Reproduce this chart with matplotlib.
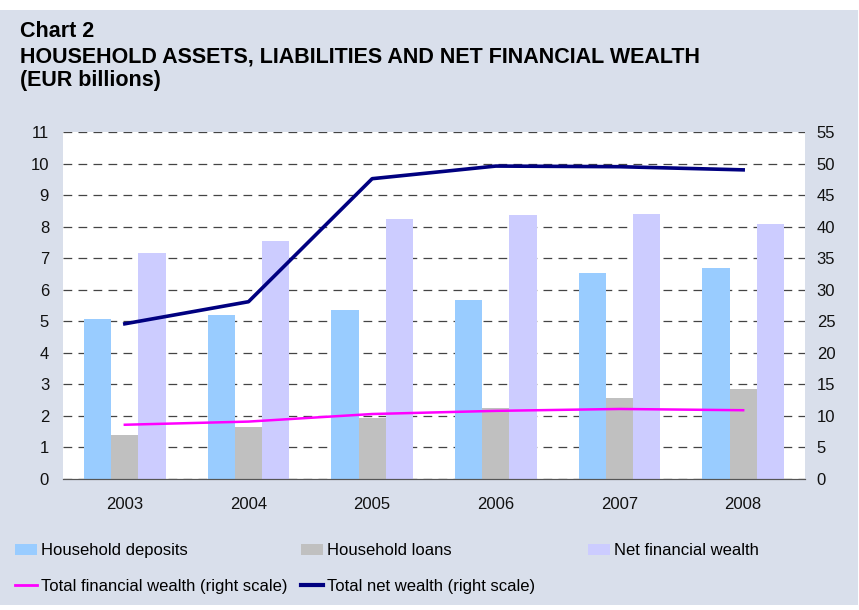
import matplotlib.pyplot as plt
import numpy as np
from matplotlib.patches import Rectangle
from matplotlib.lines import Line2D

plt.rcParams['font.family'] = ['Liberation Sans', 'DejaVu Sans']

# data (EUR billions)
years = ['2003', '2004', '2005', '2006', '2007', '2008']
deposits = [5.08, 5.21, 5.37, 5.68, 6.54, 6.70]
loans = [1.40, 1.65, 1.94, 2.25, 2.58, 2.86]
net_fin_wealth = [7.17, 7.56, 8.25, 8.38, 8.41, 8.09]
total_fin_wealth = [8.6, 9.1, 10.3, 10.8, 11.1, 10.9]   # right scale
total_net_wealth = [24.6, 28.1, 47.6, 49.6, 49.5, 49.0]  # right scale

BG = '#D9DFEB'
C_DEP = '#99CCFF'
C_LOAN = '#C0C0C0'
C_NFW = '#CCCCFF'
C_TFW = '#FF00FF'
C_TNW = '#000080'

W, H = 859, 610
fig = plt.figure(figsize=(W / 100, H / 100), dpi=100, facecolor='white')
# coloured panel, thin white margin at top/bottom
fig.patches.append(Rectangle((0, 5 / H), 858 / W, (H - 15) / H, transform=fig.transFigure,
                             facecolor=BG, edgecolor='none', zorder=-10))

ax = fig.add_axes([63 / W, 1 - 479 / H, 742 / W, 347 / H])
ax.set_facecolor('white')

x = np.arange(len(years))
w = 0.22
ax.bar(x - w, deposits, w, color=C_DEP, zorder=2)
ax.bar(x, loans, w, color=C_LOAN, zorder=2)
ax.bar(x + w, net_fin_wealth, w, color=C_NFW, zorder=2)

ax.set_xlim(-0.5, len(years) - 0.5)
ax.set_ylim(0, 11)
ax.set_yticks(range(0, 12))
ax.set_xticks(x)
ax.set_xticklabels(years)
ax.yaxis.grid(True, color='#444444', linestyle=(0, (7, 5)), linewidth=0.9, zorder=1)
ax.set_axisbelow(True)

ax2 = ax.twinx()
ax2.plot(x, total_fin_wealth, color=C_TFW, lw=1.8, zorder=3)
ax2.plot(x, total_net_wealth, color=C_TNW, lw=2.6, zorder=3)
ax2.set_ylim(0, 55)
ax2.set_yticks(range(0, 56, 5))

for a in (ax, ax2):
    for s in ('top', 'left', 'right'):
        a.spines[s].set_visible(False)
    a.spines['bottom'].set_color('#555555')
    a.tick_params(length=0, labelsize=12, colors='#111111')
ax.tick_params(axis='y', pad=10)
ax.tick_params(axis='x', pad=13)
ax2.tick_params(axis='y', pad=8.5)

# titles
for txt, yb in [('Chart 2', 37),
                ('HOUSEHOLD ASSETS, LIABILITIES AND NET FINANCIAL WEALTH', 63),
                ('(EUR billions)', 86)]:
    fig.text(20 / W, 1 - yb / H, txt, fontsize=15.5, fontweight='bold', va='baseline')

# legend, drawn by hand so that every row shares one baseline
patch_items = [(C_DEP, 'Household deposits', 15),
               (C_LOAN, 'Household loans', 301),
               (C_NFW, 'Net financial wealth', 588)]
for col, lab, px in patch_items:
    fig.patches.append(Rectangle((px / W, 1 - 555 / H), 22 / W, 11 / H,
                                 transform=fig.transFigure, facecolor=col,
                                 edgecolor='none'))
    fig.text((px + 26) / W, 1 - 555 / H, lab, fontsize=12, va='baseline')

line_items = [(C_TFW, 2, 'Total financial wealth (right scale)', 15),
              (C_TNW, 3, 'Total net wealth (right scale)', 301)]
for col, lw, lab, px in line_items:
    fig.add_artist(Line2D([px / W, (px + 22) / W], [1 - 585 / H, 1 - 585 / H],
                          transform=fig.transFigure, color=col, lw=lw))
    fig.text((px + 26) / W, 1 - 591 / H, lab, fontsize=12, va='baseline')

fig.savefig('out.png', dpi=100, facecolor='white')
